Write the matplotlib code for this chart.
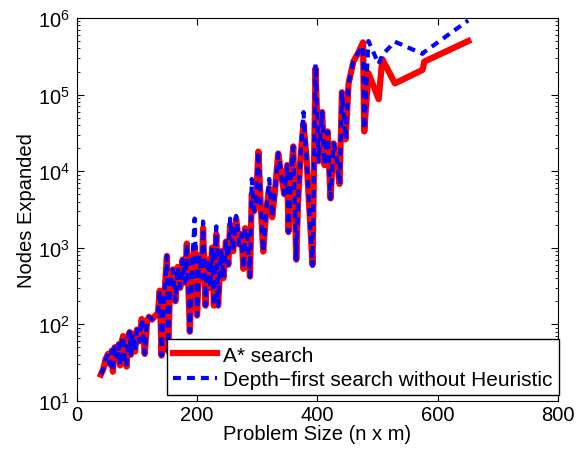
import numpy as np
import matplotlib
matplotlib.use('Agg')
import matplotlib.pyplot as plt

plt.rcParams['font.family'] = ['Liberation Sans', 'DejaVu Sans']
plt.rcParams['mathtext.fontset'] = 'custom'
plt.rcParams['mathtext.rm'] = 'Liberation Sans'

# problem sizes (n x m)
sizes = [40, 44, 48, 52, 55, 58, 60, 63, 66, 70, 72, 75, 77, 80, 83, 85, 88, 90, 93, 97,
         100, 104, 108, 110, 113, 117, 120, 125, 130, 135, 138, 141, 145, 150, 152, 155,
         160, 164, 168, 172, 176, 180, 183, 186, 188, 192, 196, 200, 204, 208, 210, 214,
         218, 222, 225, 228, 232, 235, 240, 244, 248, 252, 255, 260, 265, 270, 274, 277,
         280, 284, 288, 291, 295, 298, 302, 306, 310, 315, 320, 325, 330, 335, 340, 345,
         350, 352, 356, 360, 365, 368, 372, 377, 382, 387, 392, 397, 402, 408, 412, 417,
         422, 427, 432, 437, 441, 447, 452, 460, 468, 476, 478, 485, 502, 508, 529, 575,
         578, 651]

# nodes expanded, A* search
astar = [22, 26, 35, 41, 30, 45, 24, 50, 38, 55, 29, 60, 70, 33, 28, 65, 79, 40, 75, 44,
         85, 60, 117, 90, 41, 110, 125, 115, 128, 140, 275, 39, 200, 780, 44, 300,
         520, 200, 560, 300, 700, 350, 1130, 250, 80, 600, 1050, 130, 800, 400, 1800, 175,
         700, 300, 1000, 175, 1500, 175, 900, 400, 1200, 600, 2000, 900, 2400, 1100, 1500, 530,
         1800, 1300, 420, 5000, 3000, 4000, 18000, 3500, 890, 3000, 6000, 2500, 6000, 17000, 9000, 5000,
         12000, 1600, 8000, 21000, 700, 4000, 15000, 42000, 15000, 3000, 600, 220000, 13500, 59000, 12000, 33000,
         4400, 23000, 15000, 6800, 107000, 26000, 140000, 270000, 350000, 480000, 33000, 190000, 87000, 290000, 140000, 210000,
         270000, 500000]

# nodes expanded, depth-first search without heuristic
dfs = [22, 26, 35, 41, 30, 45, 24, 50, 38, 55, 29, 60, 70, 33, 28, 65, 79, 40, 75, 44,
       85, 60, 117, 90, 41, 110, 125, 115, 128, 140, 275, 39, 200, 780, 44, 300,
       520, 200, 560, 300, 700, 350, 1130, 250, 80, 600, 2400, 130, 800, 400, 2200, 175,
       700, 300, 1000, 175, 1900, 175, 900, 400, 1200, 600, 2400, 900, 2600, 1100, 1500, 530,
       1800, 1300, 420, 7900, 3000, 4000, 18000, 3500, 890, 3000, 7900, 2500, 6000, 17000, 9000, 5000,
       12000, 1600, 8000, 21000, 700, 4000, 15000, 59000, 15000, 3000, 580, 250000, 13500, 59000, 12000, 33000,
       4400, 23000, 15000, 6800, 107000, 26000, 140000, 270000, 350000, 430000, 35000, 500000, 250000, 330000, 490000, 340000,
       360000, 930000]

fs = 14.5

fig = plt.figure(figsize=(5.86, 4.52), dpi=100)
ax = fig.add_axes([0.131, 0.111, 0.821, 0.847])

ax.semilogy(sizes, astar, color='red', lw=4.5, label='A* search')
ax.semilogy(sizes, dfs, color='blue', lw=3, linestyle=(0, (1.9, 1.45)),
            label='Depth\u2212first search without Heuristic')

ax.set_xlim(0, 800)
ax.set_ylim(10, 1e6)
ax.set_xticks([0, 200, 400, 600, 800])
ax.tick_params(which='both', direction='in', top=True, right=True, labelsize=fs)
ax.tick_params(which='major', length=5)
ax.tick_params(which='minor', length=2.5)
ax.tick_params(axis='x', pad=3)
ax.tick_params(axis='y', pad=5)
ax.set_xlabel('Problem Size (n x m)', fontsize=fs, labelpad=0)
ax.set_ylabel('Nodes Expanded', fontsize=fs, labelpad=1)

leg = ax.legend(loc='lower right', bbox_to_anchor=(1.002, 0.015), borderaxespad=0,
                fontsize=15, fancybox=False, framealpha=1, edgecolor='black',
                handlelength=2.1, handletextpad=0.3, labelspacing=0.25,
                borderpad=0.3)
leg.get_frame().set_linewidth(1.0)

fig.savefig('out.png', dpi=100)
